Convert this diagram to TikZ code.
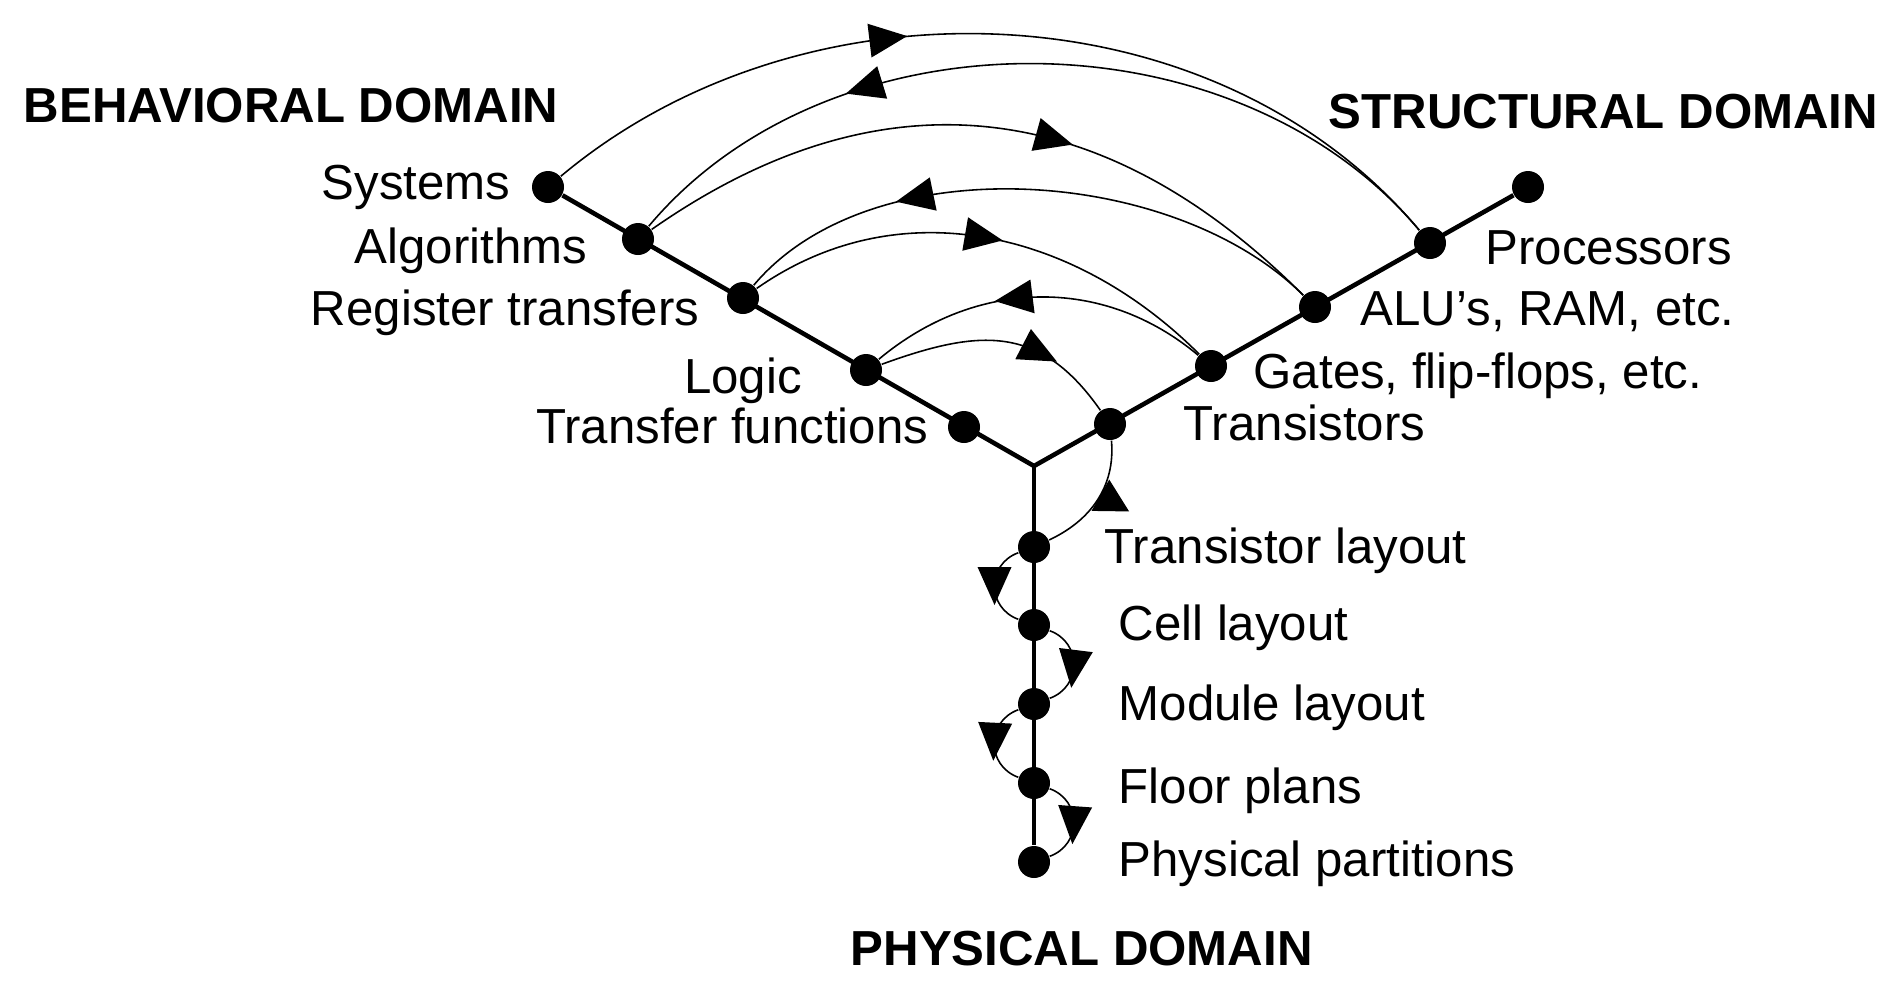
\documentclass[tikz,border=0pt]{standalone}
\usepackage{fontspec}
\setmainfont{Liberation Sans}
\usepackage{tikz}
\usetikzlibrary{arrows.meta, decorations.markings}

\begin{document}
\begin{tikzpicture}[dot/.style = {circle, fill = black, inner sep = 0pt, minimum size = 3.2mm},
			lbl/.style = {inner sep = 0pt, font = \fontsize{14pt}{16pt}\selectfont},
			title/.style = {inner sep = 0pt, font = \fontsize{14pt}{16pt}\selectfont\bfseries},
			axis/.style = {line width = 1.3pt},
			link/.style = {line width = 0.45pt, postaction = {decorate}, decoration = {markings, mark = at position #1 with {\fill (1.9mm,0) -- (-1.9mm,1.7mm) -- (-1.9mm,-1.7mm) -- cycle;}}},
			linkr/.style = {line width = 0.45pt, postaction = {decorate}, decoration = {markings, mark = at position #1 with {\fill[rotate = 90] (3.3mm,0) -- (0,1.8mm) -- (0,-1.8mm) -- cycle;}}}]
			\useasboundingbox (0,0) rectangle (18.99,-9.95);
			% behavioral axis
			\node (sys) at (5.48,-1.87) [dot] {};
			\node (alg) at (6.38,-2.39) [dot] {};
			\node (reg) at (7.43,-2.98) [dot] {};
			\node (logc) at (8.66,-3.70) [dot] {};
			\node (tf) at (9.64,-4.27) [dot] {};
			\coordinate (o) at (10.34,-4.66);
			% structural axis
			\node (tr) at (11.10,-4.24) [dot] {};
			\node (gate) at (12.11,-3.66) [dot] {};
			\node (alu) at (13.15,-3.07) [dot] {};
			\node (proc) at (14.30,-2.43) [dot] {};
			\node (pe) at (15.28,-1.87) [dot] {};
			% physical axis
			\node (tl) at (10.34,-5.47) [dot] {};
			\node (cell) at (10.34,-6.25) [dot] {};
			\node (modl) at (10.34,-7.04) [dot] {};
			\node (floor) at (10.34,-7.83) [dot] {};
			\node (phys) at (10.34,-8.62) [dot] {};
			\draw[axis] (sys) -- (o) -- (pe);
			\draw[axis, line width = 1.1pt] (o) -- (phys);
			% labels
			\node (tbeh) at (0.23,-1.22) [title, anchor = base west] {BEHAVIORAL DOMAIN};
			\node (tstr) at (13.28,-1.28) [title, anchor = base west] {STRUCTURAL DOMAIN};
			\node (tphy) at (8.50,-9.65) [title, anchor = base west] {PHYSICAL DOMAIN};
			\node (lsys) at (5.11,-1.99) [lbl, anchor = base east] {Systems};
			\node (lalg) at (5.88,-2.63) [lbl, anchor = base east] {Algorithms};
			\node (lreg) at (7.00,-3.25) [lbl, anchor = base east] {Register transfers};
			\node (llogc) at (7.43,-3.93) [lbl, anchor = base] {Logic};
			\node (ltf) at (9.29,-4.43) [lbl, anchor = base east] {Transfer functions};
			\node (lproc) at (14.85,-2.64) [lbl, anchor = base west] {Processors};
			\node (lalu) at (13.60,-3.25) [lbl, anchor = base west] {ALU’s, RAM, etc.};
			\node (lgate) at (12.53,-3.88) [lbl, anchor = base west] {Gates, flip-flops, etc.};
			\node (ltr) at (11.83,-4.40) [lbl, anchor = base west] {Transistors};
			\node (ltl) at (11.04,-5.63) [lbl, anchor = base west] {Transistor layout};
			\node (lcell) at (11.18,-6.40) [lbl, anchor = base west] {Cell layout};
			\node (lmodl) at (11.18,-7.20) [lbl, anchor = base west] {Module layout};
			\node (lfloor) at (11.18,-8.03) [lbl, anchor = base west] {Floor plans};
			\node (lphys) at (11.18,-8.76) [lbl, anchor = base west] {Physical partitions};
			% arcs between domains
			\draw (sys) edge[link = 0.38, out = 40, in = 130, looseness = 0.95] (proc);
			\draw (proc) edge[link = 0.70, out = 130, in = 50, looseness = 0.95] (alg);
			\draw (alg) edge[link = 0.59, out = 35, in = 135, looseness = 1.1] (alu);
			\draw (alu) edge[link = 0.69, out = 135, in = 50, looseness = 0.85] (reg);
			\draw (reg) edge[link = 0.49, out = 35, in = 135] (gate);
			\draw (gate) edge[link = 0.57, out = 140, in = 40] (logc);
			\draw (logc) edge[link = 0.66, out = 20, in = 125, looseness = 1.2] (tr);
			\draw (tr) edge[linkr = 0.45, out = -85, in = 25] (tl);
			% loops down the physical axis
			\draw (tl) edge[link = 0.5, out = 200, in = 160, looseness = 1.3] (cell);
			\draw (cell) edge[link = 0.55, out = -20, in = 20, looseness = 1.3] (modl);
			\draw (modl) edge[link = 0.48, out = 200, in = 160, looseness = 1.3] (floor);
			\draw (floor) edge[link = 0.53, out = -20, in = 20, looseness = 1.3] (phys);
\end{tikzpicture}
\end{document}
